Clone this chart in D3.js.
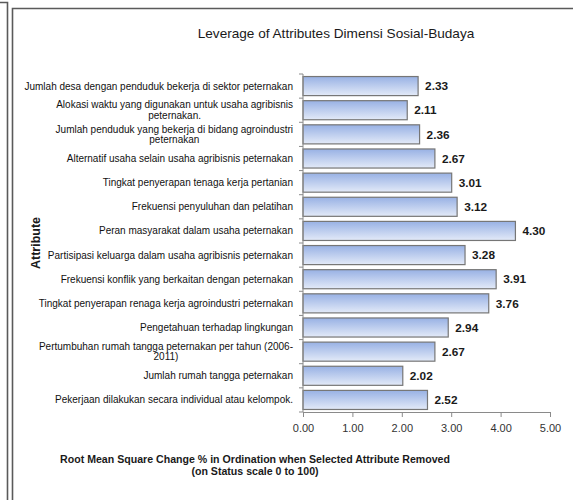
<!DOCTYPE html>
<html>
<head>
<meta charset="utf-8">
<script src="https://cdn.jsdelivr.net/npm/d3@7"></script>
<style>
  html, body { margin: 0; padding: 0; background: #fff; }
  svg { display: block; font-family: "Liberation Sans", Arial, sans-serif; }
</style>
</head>
<body>
<svg id="chart" width="573" height="500"></svg>
<script>
// Attribute names (line breaks mark wrapped labels), top to bottom
const categories = [
  "Jumlah desa dengan penduduk bekerja di sektor peternakan",
  "Alokasi waktu yang digunakan untuk usaha agribisnis\npeternakan.",
  "Jumlah penduduk yang bekerja di bidang agroindustri\npeternakan",
  "Alternatif usaha selain usaha agribisnis peternakan",
  "Tingkat penyerapan tenaga kerja pertanian",
  "Frekuensi penyuluhan dan pelatihan",
  "Peran masyarakat dalam usaha peternakan",
  "Partisipasi keluarga dalam usaha agribisnis peternakan",
  "Frekuensi konflik yang berkaitan dengan peternakan",
  "Tingkat penyerapan renaga kerja agroindustri peternakan",
  "Pengetahuan terhadap lingkungan",
  "Pertumbuhan rumah tangga peternakan per tahun (2006-\n2011)",
  "Jumlah rumah tangga peternakan",
  "Pekerjaan dilakukan secara individual atau kelompok."
];

// RMS change per attribute
const values = [2.33, 2.11, 2.36, 2.67, 3.01, 3.12, 4.30, 3.28, 3.91, 3.76, 2.94, 2.67, 2.02, 2.52];

// X axis tick values
const xTicks = [0, 1, 2, 3, 4, 5];

const titleText = "Leverage of Attributes Dimensi Sosial-Budaya";
const yTitleText = "Attribute";
const xTitleLines = [
  "Root Mean Square Change % in Ordination when Selected Attribute Removed",
  "(on Status scale 0 to 100)"
];

const svg = d3.select("#chart");

// Panel frames
const frame = svg.append("g").attr("fill", "none").attr("stroke", "#5a5a5a").attr("stroke-width", 1.6);
frame.append("path").attr("d", "M0,2.5 H7.5 V500");
frame.append("path").attr("d", "M12.5,500 V8.5 H573");

const plot = { left: 303, right: 550, top: 74, bottom: 412 };

const x = d3.scaleLinear().domain([0, 5]).range([plot.left, plot.right]);
const y = d3.scaleBand().domain(categories).range([plot.top, plot.bottom])
  .paddingInner(0.21).paddingOuter(0.105);

// Bar fill gradient
const defs = svg.append("defs");
const grad = defs.append("linearGradient").attr("id", "barFill")
  .attr("x1", 0).attr("y1", 0).attr("x2", 0).attr("y2", 1);
grad.append("stop").attr("offset", "0%").attr("stop-color", "#98b1e4");
grad.append("stop").attr("offset", "100%").attr("stop-color", "#e3eaf8");

// Title
svg.append("text")
  .attr("x", 336).attr("y", 37.5)
  .attr("text-anchor", "middle")
  .attr("font-size", 13.6)
  .attr("fill", "#1a1a1a")
  .text(titleText);

// Bars
svg.append("g").selectAll("rect").data(values).join("rect")
  .attr("x", x(0))
  .attr("y", (d, i) => y(categories[i]))
  .attr("width", d => x(d) - x(0))
  .attr("height", y.bandwidth())
  .attr("fill", "url(#barFill)")
  .attr("stroke", "#767676")
  .attr("stroke-width", 1.2);

// Value labels
svg.append("g").selectAll("text").data(values).join("text")
  .attr("x", d => x(d) + 7)
  .attr("y", (d, i) => y(categories[i]) + y.bandwidth() / 2)
  .attr("dy", "0.36em")
  .attr("font-size", 11.8)
  .attr("font-weight", "bold")
  .attr("fill", "#1a1a1a")
  .text(d => d.toFixed(2));

// X axis
const xAxis = svg.append("g")
  .attr("transform", `translate(0,${plot.bottom})`)
  .call(d3.axisBottom(x).tickValues(xTicks).tickFormat(d3.format(".2f")).tickSize(5).tickPadding(7));
xAxis.select(".domain").attr("stroke", "#8a8a8a");
xAxis.selectAll(".tick line").attr("stroke", "#8a8a8a");
xAxis.selectAll(".tick text")
  .attr("font-size", 11)
  .attr("font-family", "Liberation Sans, Arial, sans-serif")
  .attr("fill", "#333");

// Y axis line and ticks at band boundaries
const yAxis = svg.append("g").attr("stroke", "#8a8a8a");
yAxis.append("line")
  .attr("x1", plot.left).attr("x2", plot.left)
  .attr("y1", plot.top).attr("y2", plot.bottom);
const boundaries = categories.map(c => y(c) - y.step() * y.paddingInner() / 2).concat([plot.bottom]);
yAxis.selectAll("line.tk").data(boundaries).join("line")
  .attr("class", "tk")
  .attr("x1", plot.left - 4).attr("x2", plot.left)
  .attr("y1", d => d).attr("y2", d => d);

// Category labels: right-aligned block, wrapped lines centered within it
const labelRight = 293;
const lineH = 10.5;
const labels = svg.append("g")
  .attr("font-size", 10)
  .attr("fill", "#111");
categories.forEach(c => {
  const lines = c.split("\n");
  const t = labels.append("text").attr("text-anchor", "middle");
  const cy = y(c) + y.bandwidth() / 2;
  lines.forEach((ln, k) => {
    t.append("tspan")
      .attr("y", cy + (k - (lines.length - 1) / 2) * lineH)
      .attr("dy", "0.35em")
      .text(ln);
  });
  const w = d3.max(t.selectAll("tspan").nodes(), n => n.getComputedTextLength());
  t.selectAll("tspan").attr("x", labelRight - w / 2);
});

// Y axis title
svg.append("text")
  .attr("transform", `translate(40,${(plot.top + plot.bottom) / 2}) rotate(-90)`)
  .attr("text-anchor", "middle")
  .attr("font-size", 12.5)
  .attr("font-weight", "bold")
  .attr("fill", "#1a1a1a")
  .text(yTitleText);

// X axis title
const xt = svg.append("text")
  .attr("text-anchor", "middle")
  .attr("font-size", 10.6)
  .attr("font-weight", "bold")
  .attr("fill", "#1a1a1a");
xTitleLines.forEach((ln, k) => {
  xt.append("tspan").attr("x", 255).attr("y", 463 + k * 11.5).text(ln);
});
</script>
</body>
</html>
